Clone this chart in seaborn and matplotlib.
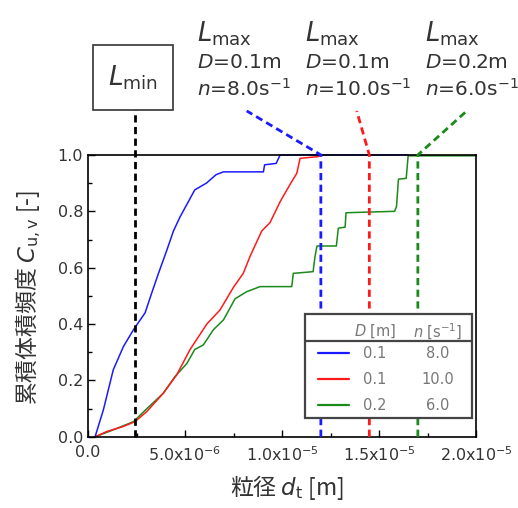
import matplotlib
matplotlib.use('Agg')
import matplotlib.pyplot as plt
import numpy as np
import pandas as pd
import seaborn as sns
from matplotlib.patches import Rectangle

# particle size [um] and cumulative volume fraction
blue_x = [0.36, 0.79, 1.30, 1.82, 2.34, 2.94, 3.28, 3.63, 4.05, 4.40, 4.74, 5.50,
          6.10, 6.60, 6.98, 9.04, 9.10, 9.70, 9.90, 16.5]
blue_y = [0.0, 0.096, 0.238, 0.32, 0.38, 0.44, 0.51, 0.58, 0.66, 0.73, 0.78, 0.876,
          0.90, 0.93, 0.94, 0.94, 0.965, 0.97, 1.0, 1.0]

red_x = [0.36, 0.96, 1.82, 2.42, 3.03, 3.88, 4.57, 5.26, 6.12, 6.80, 7.49, 8.00,
         8.35, 8.95, 9.38, 9.90, 10.40, 10.76, 10.93, 11.87, 12.0]
red_y = [0.0, 0.019, 0.037, 0.054, 0.09, 0.155, 0.22, 0.31, 0.40, 0.45, 0.53, 0.58,
         0.64, 0.73, 0.76, 0.834, 0.894, 0.935, 0.988, 0.994, 1.0]

green_x = [0.36, 1.30, 2.34, 3.03, 3.88, 4.48, 5.09, 5.50, 5.94, 6.46, 6.98, 7.58,
           8.18, 8.87, 10.50, 10.58, 11.60, 11.70, 11.80, 12.80, 12.90, 13.25, 13.30,
           15.80, 15.90, 16.00, 16.40, 16.50, 20.0]
green_y = [0.0, 0.025, 0.054, 0.10, 0.155, 0.214, 0.26, 0.31, 0.326, 0.38, 0.415, 0.49,
           0.515, 0.533, 0.533, 0.58, 0.586, 0.64, 0.677, 0.677, 0.74, 0.744, 0.795,
           0.80, 0.817, 0.914, 0.917, 0.997, 0.997]

# characteristic lengths [um]
l_min = 2.4
l_max = [12.0, 14.5, 17.0]
l_max_text_x = [8.18, 13.85, 19.52]   # where the leader lines end above the axes

series_colors = ['#1a1aff', '#ff1a1a', '#1a8a1a']
series_D = ['0.1', '0.1', '0.2']
series_n = ['8.0', '10.0', '6.0']

xticks = [0, 5e-6, 1e-5, 1.5e-5, 2e-5]
xtick_labels = ['0.0', '5.0x10$^{-6}$', '1.0x10$^{-5}$', '1.5x10$^{-5}$', '2.0x10$^{-5}$']
yticks = [0.0, 0.2, 0.4, 0.6, 0.8, 1.0]

sns.set_style('ticks')
plt.rcParams['font.family'] = ['DejaVu Sans', 'Noto Sans CJK JP']
plt.rcParams['axes.unicode_minus'] = False

fig = plt.figure(figsize=(5.18, 5.08), dpi=100)
ax = fig.add_axes([0.170, 0.140, 0.749, 0.555])

frames = []
for name, xs, ys in [('g', green_x, green_y), ('r', red_x, red_y), ('b', blue_x, blue_y)]:
    frames.append(pd.DataFrame({'x': np.array(xs) * 1e-6, 'y': ys, 'run': name}))
df = pd.concat(frames, ignore_index=True)

sns.lineplot(data=df, x='x', y='y', hue='run', palette={'b': series_colors[0], 'r': series_colors[1], 'g': series_colors[2]},
             hue_order=['g', 'r', 'b'], estimator=None, sort=False, lw=1.1, legend=False, ax=ax)
for line in ax.lines:
    line.set_clip_on(False)

# dashed markers for L_min and L_max
dash = dict(lw=2.0, dashes=(2.6, 1.6), clip_on=False, zorder=5)
ax.plot([l_min * 1e-6, l_min * 1e-6], [0, 1.16], color='black', **dash)
for xm, xt, c in zip(l_max, l_max_text_x, series_colors):
    ax.plot([xm * 1e-6, xm * 1e-6, xt * 1e-6], [0, 1.0, 1.156], color=c, **dash)

ax.set_xlim(0, 2e-5)
ax.set_ylim(0, 1.0)
ax.set_xticks(xticks)
ax.set_xticklabels(xtick_labels)
ax.set_xticks([2.5e-6, 7.5e-6, 1.25e-5, 1.75e-5], minor=True)
ax.set_yticks(yticks)
ax.set_yticklabels([f'{v:.1f}' for v in yticks])
ax.set_yticks([0.1, 0.3, 0.5, 0.7, 0.9], minor=True)
ax.tick_params(which='both', direction='in', top=False, right=False, width=1.0,
               labelsize=11.5, labelcolor='#333333', color='black')
ax.tick_params(which='major', length=5)
ax.tick_params(which='minor', length=3)
ax.tick_params(axis='x', pad=6)
for sp in ax.spines.values():
    sp.set_color('black')
    sp.set_linewidth(1.2)
ax.set_xlabel('')
ax.set_ylabel('')

# legend drawn as a small table
ax.add_patch(Rectangle((0.559, 0.067), 0.431, 0.369, transform=ax.transAxes,
                       facecolor='white', edgecolor='#444444', lw=1.6, zorder=10))
ax.plot([0.559, 0.990], [0.341, 0.341], transform=ax.transAxes, color='#444444', lw=1.6, zorder=11)
lc = '#777777'
ax.text(0.740, 0.373, '$D$ [m]', transform=ax.transAxes, ha='center', va='center',
        fontsize=10.5, color=lc, zorder=11)
ax.text(0.902, 0.373, '$n$ [s$^{-1}$]', transform=ax.transAxes, ha='center', va='center',
        fontsize=10.5, color=lc, zorder=11)
for yr, c, d, n in zip([0.297, 0.204, 0.113], series_colors, series_D, series_n):
    ax.plot([0.593, 0.673], [yr, yr], transform=ax.transAxes, color=c, lw=1.6, zorder=11)
    ax.text(0.740, yr, d, transform=ax.transAxes, ha='center', va='center',
            fontsize=10.5, color=lc, zorder=11)
    ax.text(0.902, yr, n, transform=ax.transAxes, ha='center', va='center',
            fontsize=10.5, color=lc, zorder=11)

W, H = 518, 508

def fx(px):
    return px / W

def fy(py):
    return 1 - py / H

# axis titles (CJK font as the base font so the mathtext strings keep their kanji)
cjk = 'Noto Sans CJK JP'
fig.text(fx(28), fy(297), '累積体積頻度 $C_{\\mathrm{u,v}}$ [-]', rotation=90,
         ha='center', va='center', fontsize=16.5, color='#333333', family=cjk)
fig.text(fx(287), fy(488), '粒径 $d_{\\mathrm{t}}$ [m]', ha='center', va='center',
         fontsize=16.5, color='#333333', family=cjk)

# L_min box
fig.add_artist(Rectangle((fx(93), fy(110)), 80 / W, 65 / H, transform=fig.transFigure,
                         fill=False, edgecolor='#333333', lw=1.2))
fig.text(fx(133), fy(78), '$L_{\\mathrm{min}}$', ha='center', va='center', fontsize=19, color='#333333')

# L_max labels
for x0, d, n in zip([197, 305, 425], series_D, series_n):
    fig.text(fx(x0), fy(34), '$L_{\\mathrm{max}}$', ha='left', va='center', fontsize=18.5, color='#333333')
    fig.text(fx(x0), fy(63), f'$D$={d}m', ha='left', va='center', fontsize=14.5, color='#333333')
    fig.text(fx(x0), fy(89), f'$n$={n}s$^{{-1}}$', ha='left', va='center', fontsize=14.5, color='#333333')

fig.savefig('out.png', dpi=100)
